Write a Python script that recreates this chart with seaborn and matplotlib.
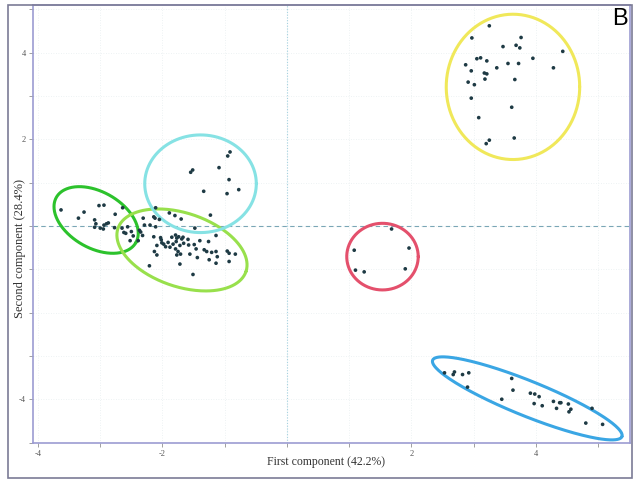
import numpy as np
import pandas as pd
import matplotlib
matplotlib.use("Agg")
import matplotlib.pyplot as plt
from matplotlib.patches import Rectangle
import seaborn as sns

# ---------------- data ----------------
left_x = [-3.63, -3.35, -3.26, -3.02, -2.94, -2.64, -2.76, -3.09, -3.07, -3.09, -3.00, -2.95, -2.94,
          -2.90, -2.87, -2.77, -2.65, -2.62, -2.59, -2.56, -2.50, -2.47, -2.52, -2.35, -2.32]
left_y = [0.37, 0.18, 0.32, 0.47, 0.48, 0.42, 0.27, 0.14, 0.05, -0.03, -0.05, -0.07, 0.02,
          0.05, 0.07, -0.04, -0.05, -0.15, -0.17, -0.02, -0.13, -0.23, -0.34, -0.14, -0.22]

center_x = [-2.11, -1.89, -1.80, -1.70, -1.23, -2.31, -2.14, -2.12, -2.05, -2.29, -2.20, -2.11, -2.37,
            -2.39, -2.14, -2.03, -2.02, -1.85, -1.79, -1.77, -1.74, -1.69, -1.67, -1.59, -1.48, -2.01,
            -1.98, -1.91, -1.95, -1.88, -1.83, -1.78, -1.72, -1.66, -1.58, -1.49, -1.40, -1.26, -1.14,
            -2.09, -2.13, -2.09, -1.79, -1.75, -1.71, -1.77, -1.56, -1.44, -1.46, -1.33, -1.29, -1.21,
            -1.14, -1.12, -0.96, -0.93, -0.83, -1.25, -1.14, -0.93, -2.21, -1.72, -1.51]
center_y = [0.42, 0.30, 0.24, 0.16, 0.25, 0.18, 0.21, 0.18, 0.15, 0.02, 0.02, -0.02, -0.10,
            -0.34, -0.25, -0.27, -0.32, -0.26, -0.21, -0.28, -0.25, -0.30, -0.26, -0.31, -0.05, -0.39,
            -0.42, -0.38, -0.48, -0.49, -0.42, -0.36, -0.45, -0.40, -0.44, -0.43, -0.34, -0.36, -0.22,
            -0.45, -0.59, -0.67, -0.53, -0.59, -0.65, -0.67, -0.65, -0.73, -0.53, -0.55, -0.59, -0.61,
            -0.59, -0.71, -0.58, -0.63, -0.65, -0.78, -0.86, -0.82, -0.92, -0.88, -1.12]

upper_x = [-0.915, -0.952, -1.515, -1.547, -1.092, -0.931, -1.338, -0.963, -0.775]
upper_y = [1.708, 1.615, 1.292, 1.239, 1.346, 1.069, 0.80, 0.746, 0.838]

red_x = [1.68, 1.08, 1.96, 1.10, 1.24, 1.90]
red_y = [-0.07, -0.56, -0.51, -1.02, -1.06, -0.99]

yellow_x = [3.25, 2.97, 3.76, 3.47, 3.68, 3.74, 4.43, 3.05, 3.11, 3.21, 2.87, 3.55, 3.72, 3.95, 3.37,
            4.28, 2.96, 3.17, 3.21, 3.18, 3.66, 2.91, 3.01, 2.96, 3.61, 3.08, 3.65, 3.25, 3.20]
yellow_y = [4.62, 4.34, 4.35, 4.14, 4.17, 4.11, 4.03, 3.86, 3.88, 3.81, 3.72, 3.75, 3.75, 3.87, 3.65,
            3.65, 3.58, 3.53, 3.51, 3.39, 3.38, 3.32, 3.26, 2.95, 2.74, 2.50, 2.03, 1.98, 1.90]

blue_x = [2.53, 2.67, 2.69, 2.82, 2.92, 2.90, 3.61, 3.63, 3.45, 3.91, 3.98, 4.05, 3.97, 4.10, 4.28,
          4.33, 4.38, 4.40, 4.52, 4.56, 4.53, 4.90, 4.80, 5.07]
blue_y = [-3.39, -3.43, -3.37, -3.43, -3.39, -3.72, -3.52, -3.79, -4.00, -3.86, -3.88, -3.94, -4.10,
          -4.15, -4.05, -4.21, -4.08, -4.08, -4.11, -4.23, -4.29, -4.21, -4.55, -4.58]

# group ellipses: centre (x, y) and two semi-axis vectors (data units)
ell_names = ["left", "center", "upper", "red", "yellow", "blue"]
ell_cx = [-3.066, -1.687, -1.389, 1.534, 3.63, 3.86]
ell_cy = [0.138, -0.554, 0.974, -0.708, 3.21, -3.98]
ell_ux = [0.638, 1.028, 0.896, 0.574, 1.072, 1.520]
ell_uy = [-0.524, -0.499, 0.0, 0.0, 0.0, -0.882]
ell_vx = [-0.225, -0.190, 0.0, 0.0, 0.0, -0.105]
ell_vy = [-0.563, -0.804, 1.127, 0.769, 1.677, -0.375]
ell_colors = ["#2cc22c", "#98e04c", "#86e2e4", "#e4506c", "#f0e85a", "#3aa6e4"]

x_tick_labels = {-4: "-4", -2: "-2", 2: "2", 4: "4"}
y_tick_labels = {4: "4", 2: "2", -4: "-4"}

# ---------------- build table ----------------
groups = {"left": (left_x, left_y), "center": (center_x, center_y), "upper": (upper_x, upper_y),
          "red": (red_x, red_y), "yellow": (yellow_x, yellow_y), "blue": (blue_x, blue_y)}
df = pd.concat([pd.DataFrame({"x": gx, "y": gy, "group": g}) for g, (gx, gy) in groups.items()],
               ignore_index=True)

sns.set_theme(style="white")
plt.rcParams["font.family"] = ["Liberation Serif", "DejaVu Serif"]

fig = plt.figure(figsize=(6.4, 4.83), dpi=100)
ax = fig.add_axes([33 / 640, 40 / 483, 597 / 640, 438 / 483])

ax.set_xlim(-4.08, 5.51)
ax.set_ylim(-5.01, 5.10)

xt = list(range(-4, 6))
yt = list(range(-5, 6))
ax.set_xticks(xt)
ax.set_xticklabels([x_tick_labels.get(v, "") for v in xt])
ax.set_yticks(yt)
ax.set_yticklabels([y_tick_labels.get(v, "") for v in yt])
ax.grid(True, color="#e8eef0", lw=0.6, ls=(0, (1, 2)))
ax.set_axisbelow(True)

ax.axhline(0, color="#7aa6b6", ls=(0, (4, 3)), lw=0.8, zorder=1)
ax.axvline(0, color="#a6d2e0", ls=(0, (1, 1.5)), lw=0.8, zorder=1)

sns.scatterplot(data=df, x="x", y="y", color="#1e3a44", s=7, edgecolor="none",
                legend=False, ax=ax, zorder=3)

t = np.linspace(0, 2 * np.pi, 300)
for i in range(len(ell_names)):
    ex = ell_cx[i] + ell_ux[i] * np.cos(t) + ell_vx[i] * np.sin(t)
    ey = ell_cy[i] + ell_uy[i] * np.cos(t) + ell_vy[i] * np.sin(t)
    ax.plot(ex, ey, color=ell_colors[i], lw=2.2, zorder=2)

for s in ax.spines.values():
    s.set_color("#9c9cd2")
    s.set_linewidth(1.2)

ax.tick_params(direction="out", length=3, width=0.6, color="#909090",
               labelsize=6, labelcolor="#555555", pad=2, bottom=True, left=True)

ax.set_xlabel("First component (42.2%)", fontsize=8.5, color="#333333")
ax.set_ylabel("Second component (28.4%)", fontsize=9, color="#333333")
ax.xaxis.set_label_coords((326 - 33) / 597, (443 - 462) / 438)
ax.yaxis.set_label_coords((20 - 33) / 597, (443 - 249) / 438)
ax.xaxis.label.set_va("center")
ax.yaxis.label.set_va("center")

fig.text(620 / 640, 1 - 19 / 483, "B", fontsize=17, family=["Liberation Sans", "DejaVu Sans"],
         ha="center", va="center", color="black")

fig.add_artist(Rectangle((8 / 640, 5 / 483), 624 / 640, 473 / 483, transform=fig.transFigure,
                         fill=False, ec="#7c7c96", lw=1.2))

fig.savefig("out.png", dpi=100)
